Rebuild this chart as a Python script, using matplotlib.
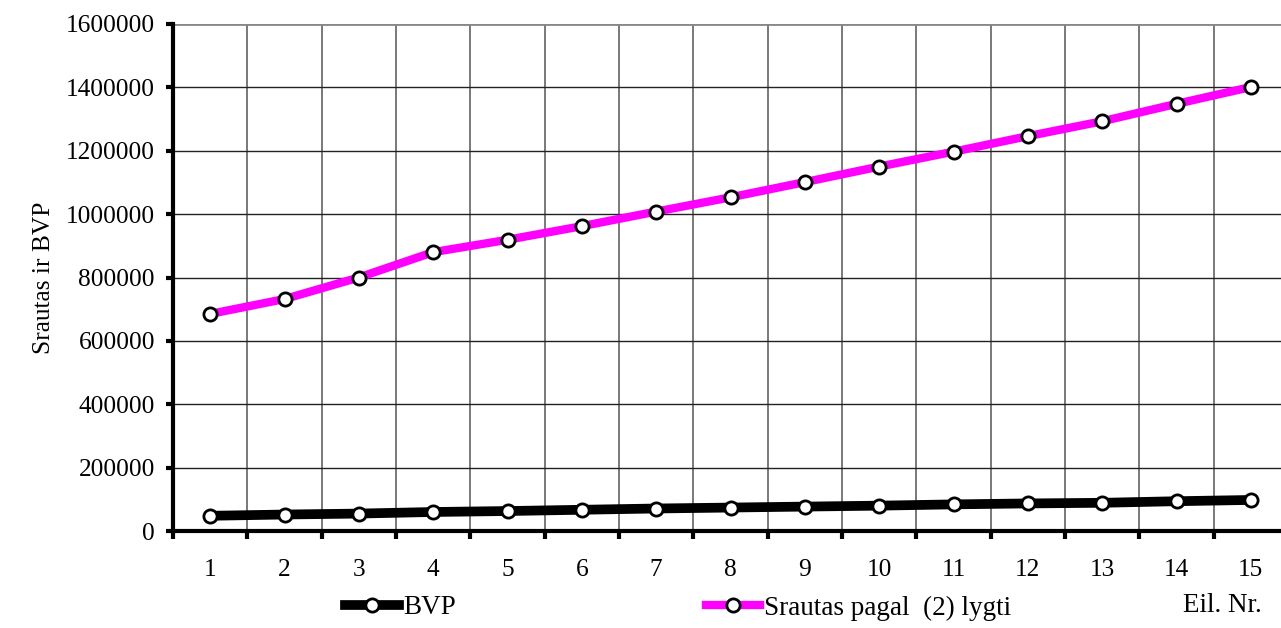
import matplotlib
matplotlib.use("Agg")
import matplotlib.pyplot as plt
from matplotlib.lines import Line2D
from matplotlib.ticker import FixedLocator

# Data
eil_nr = list(range(1, 16))
bvp = [48000, 52000, 55000, 60000, 63000, 67000, 71000, 74000, 77000,
       80000, 84000, 87000, 89000, 94000, 98000]
srautas = [685000, 732000, 800000, 880000, 919000, 962000, 1008000, 1053000,
           1101000, 1150000, 1197000, 1246000, 1293000, 1348000, 1401000]
y_ticks = [0, 200000, 400000, 600000, 800000, 1000000, 1200000, 1400000, 1600000]

plt.rcParams['font.family'] = ['Liberation Serif', 'DejaVu Serif']
FS = 18.3
FS_LEG = 19.5

W, H = 1281, 628
fig = plt.figure(figsize=(W / 100, H / 100), dpi=100)
left, right = 173 / W, 1288 / W
bottom, top = (H - 531) / H, (H - 24) / H
ax = fig.add_axes([left, bottom, right - left, top - bottom])

ax.set_xlim(0.5, 15.5)
ax.set_ylim(0, 1600000)

# Grid
for b in [i + 0.5 for i in range(1, 15)]:
    ax.axvline(b, color='#555555', lw=1.1, zorder=1)
for yv in y_ticks[1:]:
    ax.axhline(yv, color='#222222' if yv < 1600000 else '#888888',
               lw=1.0 if yv < 1600000 else 2.0, zorder=1)

mk = dict(marker='o', markersize=9.5, markerfacecolor='white',
          markeredgecolor='black', markeredgewidth=2.0)
l1, = ax.plot(eil_nr, bvp, color='black', lw=7.0, zorder=3, **mk)
l2, = ax.plot(eil_nr, srautas, color='#FF00FF', lw=6.0, zorder=3, **mk)

# Spines
for s in ['top', 'right']:
    ax.spines[s].set_visible(False)
for s in ['left', 'bottom']:
    ax.spines[s].set_linewidth(3.0)
    ax.spines[s].set_color('black')

ax.set_yticks(y_ticks)
ax.set_yticklabels([str(v) for v in y_ticks], fontsize=FS)
ax.tick_params(axis='y', direction='out', length=5, width=3, pad=8)

ax.set_xticks(eil_nr)
ax.set_xticklabels([str(v) for v in eil_nr], fontsize=FS)
ax.tick_params(axis='x', which='major', length=0, pad=20)
ax.xaxis.set_minor_locator(FixedLocator([i + 0.5 for i in range(0, 15)]))
ax.tick_params(axis='x', which='minor', direction='out', length=6, width=3)

ax.set_ylabel('Srautas ir BVP', fontsize=FS)
ax.yaxis.set_label_coords(-(173 - 55) / (1288 - 173), 0.5)

fig.text(1262 / W, 1 - 605 / H, 'Eil. Nr.', fontsize=FS_LEG, ha='right', va='center')

leg_kw = dict(frameon=False, fontsize=FS_LEG, handlelength=2.0, handletextpad=0.15,
              borderpad=0, borderaxespad=0)
h1 = Line2D([], [], color='black', lw=7.0, **mk)
h2 = Line2D([], [], color='#FF00FF', lw=6.0, **mk)
fig.legend([h1], ['BVP'], loc='center left',
           bbox_to_anchor=(345 / W, 1 - 608 / H), **leg_kw)
fig.legend([h2], ['Srautas pagal  (2) lygti'], loc='center left',
           bbox_to_anchor=(706 / W, 1 - 608 / H), **leg_kw)

fig.savefig('out.png', dpi=100)
